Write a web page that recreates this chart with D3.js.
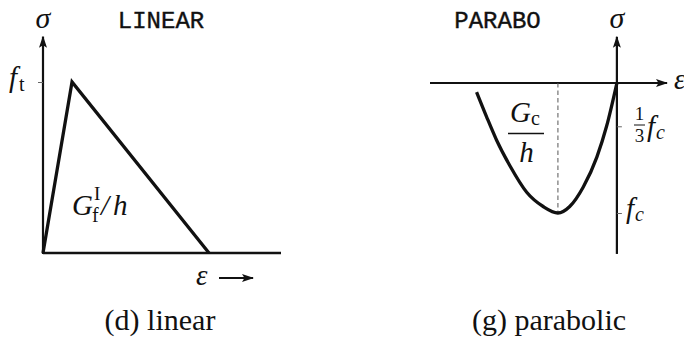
<!DOCTYPE html>
<html>
<head>
<meta charset="utf-8">
<script src="https://cdn.jsdelivr.net/npm/d3@7"></script>
</head>
<body style="margin:0;padding:0;background:#fff;">
<svg id="chart" width="684" height="342" style="display:block;background:#fff;"></svg>
<script>
// (d) linear tension softening: strain in units of the peak strain, stress in units of f_t
const linearStrain = [0, 1, 5.72];
const linearStress = [0, 1, 0];
const linearTicks = [1];

// (g) parabolic compression: strain in units of the peak strain, stress in units of f_c
const paraboStrain = [-2.38, -2.21, -2.04, -1.81, -1.53, -1.25, -1.0, -0.80, -0.57, -0.34, -0.175, 0];
const paraboStress = [-0.07, -0.26, -0.44, -0.64, -0.84, -0.95, -1.0, -0.95, -0.80, -0.57, -0.333, 0];
const paraboPeakStrain = -1.0;
const paraboTicks = [-0.333, -1];

const panelTitles = ["LINEAR", "PARABO"];
const captions = ["(d) linear", "(g) parabolic"];

const SERIF = "'Liberation Serif', 'Times New Roman', serif";
const MONO = "'Liberation Mono', 'DejaVu Sans Mono', monospace";

const svg = d3.select("#chart");
const ink = "#111";
const axisW = 2.2, curveW = 3.3;

// arrowhead marker
svg.append("defs").append("marker")
  .attr("id", "arrow")
  .attr("markerUnits", "userSpaceOnUse")
  .attr("viewBox", "0 0 12 10")
  .attr("refX", 11).attr("refY", 5)
  .attr("markerWidth", 12).attr("markerHeight", 10)
  .attr("orient", "auto")
  .append("path")
  .attr("d", "M0,1 L12,5 L0,9 L2.5,5 Z")
  .attr("fill", ink);

// text built from pieces (italic symbols, sub/superscripts); each piece carries its own font
function mathText(g, x, y, parts, anchor) {
  const t = g.append("text")
    .style("font-family", SERIF, "important")
    .style("font-size", "30px")
    .attr("fill", ink)
    .attr("x", x).attr("y", y)
    .attr("text-anchor", anchor || "start");
  parts.forEach(p => {
    const s = t.append("tspan").text(p.t)
      .style("font-family", SERIF, "important")
      .style("font-size", (p.size || 30) + "px", "important")
      .style("font-style", p.italic ? "italic" : "normal", "important")
      .attr("fill", ink);
    if (p.dy) s.attr("dy", p.dy);
    if (p.dx) s.attr("dx", p.dx);
  });
  return t;
}

function monoText(g, x, y, str) {
  g.append("text")
    .style("font-family", MONO, "important")
    .style("font-size", "24px", "important")
    .attr("fill", ink)
    .attr("stroke", ink).attr("stroke-width", 0.4)
    .attr("x", x).attr("y", y).attr("text-anchor", "middle")
    .text(str);
}

// ---------------- Panel (d): linear ----------------
const xL = d3.scaleLinear().domain([0, 8.2]).range([43, 281]);
const yL = d3.scaleLinear().domain([0, 1]).range([253, 82]);
const gL = svg.append("g");

// stress axis with arrow
gL.append("line")
  .attr("x1", xL(0)).attr("x2", xL(0))
  .attr("y1", yL(0) + 1).attr("y2", yL(1.265))
  .attr("stroke", ink).attr("stroke-width", axisW)
  .attr("marker-end", "url(#arrow)");
// strain baseline
gL.append("line")
  .attr("x1", xL(0)).attr("x2", xL(8.2))
  .attr("y1", yL(0)).attr("y2", yL(0))
  .attr("stroke", ink).attr("stroke-width", 2.6);

// f_t tick
const tickL = gL.append("g")
  .attr("transform", `translate(${xL(0)},0)`)
  .call(d3.axisLeft(yL).tickValues(linearTicks).tickSize(5).tickFormat(""));
tickL.select(".domain").remove();
tickL.selectAll(".tick line").attr("stroke", "#666").attr("stroke-width", 1);

// softening curve
const lineL = d3.line().x(d => xL(d[0])).y(d => yL(d[1]));
gL.append("path")
  .datum(d3.zip(linearStrain, linearStress))
  .attr("d", lineL)
  .attr("fill", "none").attr("stroke", ink)
  .attr("stroke-width", curveW).attr("stroke-linejoin", "miter");

// labels
mathText(gL, xL(0), 28, [{t: "σ", italic: true}], "middle");
monoText(gL, 161, 28, panelTitles[0]);
mathText(gL, 9, 87, [{t: "f", italic: true, size: 29}, {t: "t", size: 20, dy: 4, dx: 2}]);
// G_f^I / h
mathText(gL, 72, 215, [{t: "G", italic: true, size: 29}]);
mathText(gL, 94, 200, [{t: "I", size: 19}]);
mathText(gL, 92, 222, [{t: "f", size: 20}]);
mathText(gL, 101, 215, [{t: "/", italic: true, size: 29}]);
mathText(gL, 113, 215, [{t: "h", italic: true, size: 29}]);
// strain label with arrow
mathText(gL, 196, 285, [{t: "ε", italic: true, size: 29}]);
gL.append("line")
  .attr("x1", 219).attr("x2", 253).attr("y1", 278).attr("y2", 278)
  .attr("stroke", ink).attr("stroke-width", 2)
  .attr("marker-end", "url(#arrow)");
mathText(gL, 160, 330, [{t: captions[0]}], "middle");

// ---------------- Panel (g): parabolic ----------------
const xR = d3.scaleLinear().domain([-3.17, 0.85]).range([430, 667]);
const yR = d3.scaleLinear().domain([0, -1]).range([83, 213]);
const gR = svg.append("g");

// strain axis with arrow
gR.append("line")
  .attr("x1", xR(-3.17)).attr("x2", xR(0.85))
  .attr("y1", yR(0)).attr("y2", yR(0))
  .attr("stroke", ink).attr("stroke-width", axisW)
  .attr("marker-end", "url(#arrow)");
// stress axis with arrow
gR.append("line")
  .attr("x1", xR(0)).attr("x2", xR(0))
  .attr("y1", yR(-1.315)).attr("y2", yR(0.355))
  .attr("stroke", ink).attr("stroke-width", axisW)
  .attr("marker-end", "url(#arrow)");

// ticks at f_c/3 and f_c
const tickR = gR.append("g")
  .attr("transform", `translate(${xR(0)},0)`)
  .call(d3.axisRight(yR).tickValues(paraboTicks).tickSize(5).tickFormat(""));
tickR.select(".domain").remove();
tickR.selectAll(".tick line").attr("stroke", "#666").attr("stroke-width", 1);

// peak strain guide
gR.append("line")
  .attr("x1", xR(paraboPeakStrain)).attr("x2", xR(paraboPeakStrain))
  .attr("y1", yR(0)).attr("y2", yR(-1))
  .attr("stroke", "#555").attr("stroke-width", 1)
  .attr("stroke-dasharray", "4.5,3");

// parabolic curve
const lineR = d3.line().x(d => xR(d[0])).y(d => yR(d[1])).curve(d3.curveMonotoneX);
gR.append("path")
  .datum(d3.zip(paraboStrain, paraboStress))
  .attr("d", lineR)
  .attr("fill", "none").attr("stroke", ink)
  .attr("stroke-width", curveW).attr("stroke-linecap", "butt");

// labels
monoText(gR, 497.5, 28, panelTitles[1]);
mathText(gR, xR(0), 28, [{t: "σ", italic: true}], "middle");
mathText(gR, 674, 89, [{t: "ε", italic: true, size: 29}]);
// 1/3 f_c
mathText(gR, 639.5, 120, [{t: "1", size: 19}], "middle");
gR.append("line").attr("x1", 634).attr("x2", 645).attr("y1", 125).attr("y2", 125)
  .attr("stroke", ink).attr("stroke-width", 1);
mathText(gR, 639.5, 142, [{t: "3", size: 19}], "middle");
mathText(gR, 647, 136, [{t: "f", italic: true, size: 29}, {t: "c", italic: true, size: 20, dy: 3, dx: 1}]);
// f_c
mathText(gR, 626, 218, [{t: "f", italic: true, size: 29}, {t: "c", italic: true, size: 20, dy: 3, dx: 1}]);
// G_c / h
mathText(gR, 510, 122, [{t: "G", italic: true, size: 29}, {t: "c", size: 20, dy: 3}]);
gR.append("line").attr("x1", 508).attr("x2", 544).attr("y1", 133.5).attr("y2", 133.5)
  .attr("stroke", ink).attr("stroke-width", 1.3);
mathText(gR, 526.5, 162, [{t: "h", italic: true, size: 29}], "middle");
mathText(gR, 549, 330, [{t: captions[1]}], "middle");
</script>
</body>
</html>
